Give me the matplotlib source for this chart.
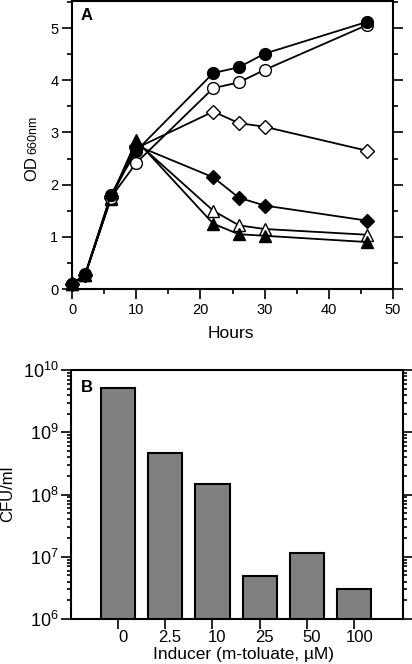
import matplotlib
matplotlib.use("Agg")
import matplotlib.pyplot as plt
from matplotlib.ticker import MultipleLocator, LogLocator, NullFormatter
import matplotlib.transforms as mtransforms
import numpy as np

plt.rcParams['font.family'] = ['Liberation Sans', 'DejaVu Sans']
plt.rcParams['mathtext.fontset'] = 'custom'
plt.rcParams['mathtext.rm'] = 'Liberation Sans'
plt.rcParams['mathtext.it'] = 'Liberation Sans'

# ---------------- Data: panel A ----------------
hours = [0, 2, 6, 10, 22, 26, 30, 46]
od_filled_circle = [0.10, 0.28, 1.80, 2.65, 4.14, 4.25, 4.51, 5.12]
od_open_circle = [0.10, 0.27, 1.75, 2.42, 3.85, 3.96, 4.20, 5.06]
od_open_diamond = [0.10, 0.27, 1.75, 2.70, 3.40, 3.18, 3.11, 2.65]
od_filled_diamond = [0.10, 0.27, 1.78, 2.75, 2.14, 1.75, 1.60, 1.31]
od_open_triangle = [0.10, 0.27, 1.72, 2.82, 1.50, 1.22, 1.15, 1.04]
od_filled_triangle = [0.10, 0.27, 1.74, 2.85, 1.25, 1.05, 1.02, 0.90]

# ---------------- Data: panel B ----------------
inducer_labels = ['0', '2.5', '10', '25', '50', '100']
cfu_values = [5.07e9, 4.72e8, 1.48e8, 4.93e6, 1.14e7, 3.04e6]
log_tick_values = [1e6, 1e7, 1e8, 1e9, 1e10]
log_tick_labels = [r'$\mathregular{10^{6}}$', r'$\mathregular{10^{7}}$',
                   r'$\mathregular{10^{8}}$', r'$\mathregular{10^{9}}$',
                   r'$\mathregular{10^{10}}$']

W, H = 412, 664
fig = plt.figure(figsize=(W / 100, H / 100), dpi=100)

def fx(px):
    return px / W

def fy(py):
    return 1 - py / H

# ---------------- Panel A ----------------
axA = fig.add_axes([fx(72.3), fy(289), fx(392.7) - fx(72.3), fy(1) - fy(289)])
series = [
    (od_open_triangle, '^', 'white', 9),
    (od_filled_triangle, '^', 'black', 9),
    (od_open_diamond, 'D', 'white', 7),
    (od_filled_diamond, 'D', 'black', 7),
    (od_open_circle, 'o', 'white', 8.5),
    (od_filled_circle, 'o', 'black', 8.5),
]
for vals, mk, fc, ms in series:
    axA.plot(hours, vals, color='black', lw=1.3, marker=mk, ms=ms,
             mfc=fc, mec='black', mew=1.0, clip_on=False, zorder=3)

axA.set_xlim(0, 50)
axA.set_ylim(0, 5.52)
axA.xaxis.set_major_locator(MultipleLocator(10))
axA.xaxis.set_minor_locator(MultipleLocator(5))
axA.yaxis.set_major_locator(MultipleLocator(1))
axA.yaxis.set_minor_locator(MultipleLocator(0.5))
axA.tick_params(which='both', direction='out', right=True, top=False,
                width=1.2, labelsize=10.5, pad=3)
axA.tick_params(which='major', length=7)
axA.tick_params(which='minor', length=3.5)
for s in axA.spines.values():
    s.set_linewidth(1.5)
axA.text(0.025, 0.975, 'A', transform=axA.transAxes, fontsize=12,
         fontweight='bold', ha='left', va='top')
fig.text(fx(231), fy(333), 'Hours', ha='center', va='center', fontsize=12.5)

fig.text(fx(39.5), fy(181), 'OD', rotation=90, ha='right', va='bottom', fontsize=12)
fig.text(fx(39.0), fy(154), '660nm', rotation=90, ha='right', va='bottom', fontsize=9)

# ---------------- Panel B ----------------
axB = fig.add_axes([fx(71), fy(619), fx(402.7) - fx(71), fy(370) - fy(619)])
xpos = np.arange(len(inducer_labels))
axB.bar(xpos, cfu_values, width=0.72, color='#808080', edgecolor='black',
        linewidth=1.5, bottom=0, zorder=2)
axB.set_yscale('log')
axB.set_ylim(1e6, 1e10)
axB.set_xlim(-0.99, 6.02)
axB.set_xticks(xpos)
axB.set_xticklabels(inducer_labels)
axB.set_yticks(log_tick_values)
axB.set_yticklabels(log_tick_labels)
axB.yaxis.set_minor_locator(LogLocator(base=10, subs=np.arange(2, 10)))
axB.yaxis.set_minor_formatter(NullFormatter())
axB.tick_params(which='both', direction='out', right=True, top=False,
                width=1.2, labelsize=13)
axB.tick_params(which='major', length=7, pad=2)
axB.tick_params(which='minor', length=3)
axB.tick_params(axis='x', labelsize=12, pad=1)
shift = mtransforms.ScaledTranslation(5 / 100, 0, fig.dpi_scale_trans)
for lab in axB.get_xticklabels():
    lab.set_transform(lab.get_transform() + shift)
for s in axB.spines.values():
    s.set_linewidth(1.5)
axB.text(0.03, 0.96, 'B', transform=axB.transAxes, fontsize=12,
         fontweight='bold', ha='left', va='top')
fig.text(fx(244), fy(655), 'Inducer (m-toluate, \u00b5M)', ha='center',
         va='center', fontsize=12.5)
fig.text(fx(8), fy(494), 'CFU/ml', rotation=90, ha='center', va='center',
         fontsize=12)

fig.savefig('out.png', dpi=100)
